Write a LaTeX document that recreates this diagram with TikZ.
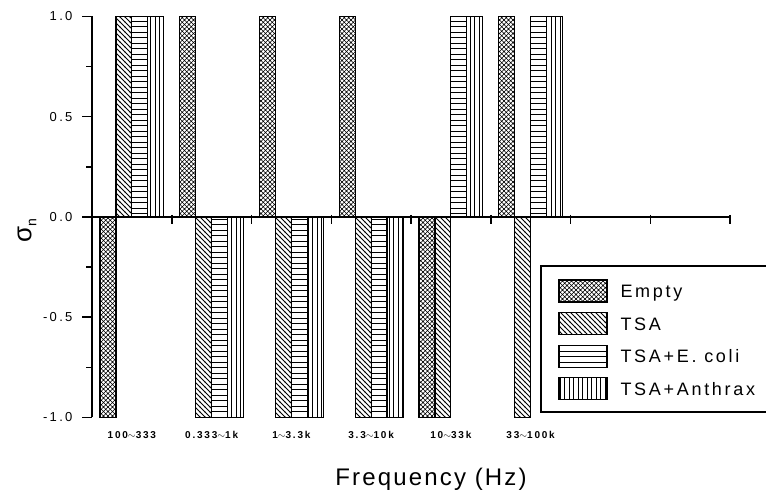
\documentclass[tikz,border=0pt]{standalone}
\usepackage{fontspec}
\setmainfont{Liberation Sans}
\newfontfamily\tickfont[LetterSpace=18]{Liberation Sans}
\newfontfamily\legendfont[LetterSpace=15]{Liberation Sans}
\newfontfamily\titlefont[LetterSpace=9]{Liberation Sans}
\usetikzlibrary{patterns}

% fill patterns of the four series
\pgfdeclarepatternformonly{emptyhatch}{\pgfqpoint{-1pt}{-1pt}}{\pgfqpoint{5.5pt}{5.5pt}}{\pgfqpoint{4.5pt}{4.5pt}}{%
  \pgfsetlinewidth{0.6pt}%
  \pgfpathmoveto{\pgfqpoint{-0.5pt}{-0.5pt}}\pgfpathlineto{\pgfqpoint{5pt}{5pt}}%
  \pgfpathmoveto{\pgfqpoint{-0.5pt}{5pt}}\pgfpathlineto{\pgfqpoint{5pt}{-0.5pt}}%
  \pgfusepath{stroke}}
\pgfdeclarepatternformonly{tsadiag}{\pgfqpoint{-1pt}{-1pt}}{\pgfqpoint{6pt}{6pt}}{\pgfqpoint{5pt}{5pt}}{%
  \pgfsetlinewidth{0.9pt}%
  \pgfpathmoveto{\pgfqpoint{-0.5pt}{5.5pt}}\pgfpathlineto{\pgfqpoint{5.5pt}{-0.5pt}}%
  \pgfusepath{stroke}}
\pgfdeclarepatternformonly{ecolilines}{\pgfqpoint{-1pt}{0pt}}{\pgfqpoint{6.5pt}{5.5pt}}{\pgfqpoint{5.5pt}{5.5pt}}{%
  \pgfsetlinewidth{1.1pt}%
  \pgfpathmoveto{\pgfqpoint{-1pt}{2.75pt}}\pgfpathlineto{\pgfqpoint{6.5pt}{2.75pt}}%
  \pgfusepath{stroke}}
\pgfdeclarepatternformonly{anthraxlines}{\pgfqpoint{0pt}{-1pt}}{\pgfqpoint{4.5pt}{5.5pt}}{\pgfqpoint{4.5pt}{4.5pt}}{%
  \pgfsetlinewidth{0.9pt}%
  \pgfpathmoveto{\pgfqpoint{2.25pt}{-1pt}}\pgfpathlineto{\pgfqpoint{2.25pt}{5.5pt}}%
  \pgfusepath{stroke}}

\begin{document}
\begin{tikzpicture}[x=79.75pt,y=200.5pt,line join=miter]
  \tikzset{bar/.style={draw=black,line width=1.2pt},
    emptybar/.style={bar,pattern=emptyhatch},
    tsabar/.style={bar,pattern=tsadiag},
    ecolibar/.style={bar,pattern=ecolilines},
    anthraxbar/.style={bar,pattern=anthraxlines},
    axis/.style={line width=1.5pt},
    ticklabel/.style={font=\tickfont\fontsize{13}{13}\selectfont},
    grouplabel/.style={font=\tickfont\fontsize{10}{10}\selectfont\bfseries}}
  % pixel frame, 766 x 497
  \useasboundingbox (-92pt,217pt) rectangle (674pt,-280pt);
  % bars: Empty, TSA, TSA+E. coli, TSA+Anthrax
  \foreach \g/\a/\b/\c/\d in {0/-1/1/1/1,1/1/-1/-1/-1,2/1/-1/-1/-1,3/1/-1/-1/-1,4/-1/-1/1/1,5/1/-1/1/1}{
    \draw[emptybar] (\g+0.1,0) rectangle (\g+0.3,\a);
    \draw[tsabar] (\g+0.3,0) rectangle (\g+0.5,\b);
    \draw[ecolibar] (\g+0.5,0) rectangle (\g+0.7,\c);
    \draw[anthraxbar] (\g+0.7,0) rectangle (\g+0.9,\d);
  }
  % axes
  \draw[axis] (0,1) -- (0,-1);
  \draw[axis] (0,0) -- (8,0);
  \foreach \y in {1,0.5,0,-0.5,-1} \draw[axis] (0,\y) -- ++(-10pt,0);
  \foreach \y in {0.75,0.25,-0.25,-0.75} \draw[axis] (0,\y) -- ++(-6pt,0);
  \foreach \x in {1,...,8} \draw[axis] ([yshift=2pt]\x,0) -- ++(0,-9pt);
  \foreach \y/\t [count=\i] in {1/1.0,0.5/0.5,0/0.0,-0.5/-0.5,-1/-1.0}
    \node[ticklabel,anchor=east] (ytick\i) at ([xshift=-16pt]0,\y) {\t};
  \foreach \g/\t in {0/100$\sim$333,1/0.333$\sim$1k,2/1$\sim$3.3k,3/3.3$\sim$10k,4/10$\sim$33k,5/33$\sim$100k}
    \node[grouplabel] (group\g) at (\g+0.5,-1.087) {\t};
  \node[rotate=90,font=\fontsize{26}{26}\selectfont] (ytitle) at (-0.815,-0.07)
    {σ\raisebox{-5pt}{\fontsize{14}{14}\selectfont n}};
  % legend and axis title
  \begin{scope}[x=1pt,y=-1pt,shift={(-92pt,217pt)}]
    \draw[line width=1.2pt] (541,266) rectangle (790,412);
    \foreach \i/\s/\t in {0/emptybar/Empty,1/tsabar/TSA,2/ecolibar/TSA+E. coli,3/anthraxbar/TSA+Anthrax}{
      \draw[\s] (559,280+32.6*\i) rectangle (607,302+32.6*\i);
      \node[anchor=base west,font=\legendfont\fontsize{18}{18}\selectfont] (legend\i) at (617,297.5+32.6*\i) {\t};
    }
    \node[font=\titlefont\fontsize{24}{24}\selectfont,anchor=base] (xtitle) at (431,486) {Frequency (Hz)};
  \end{scope}
\end{tikzpicture}
\end{document}
